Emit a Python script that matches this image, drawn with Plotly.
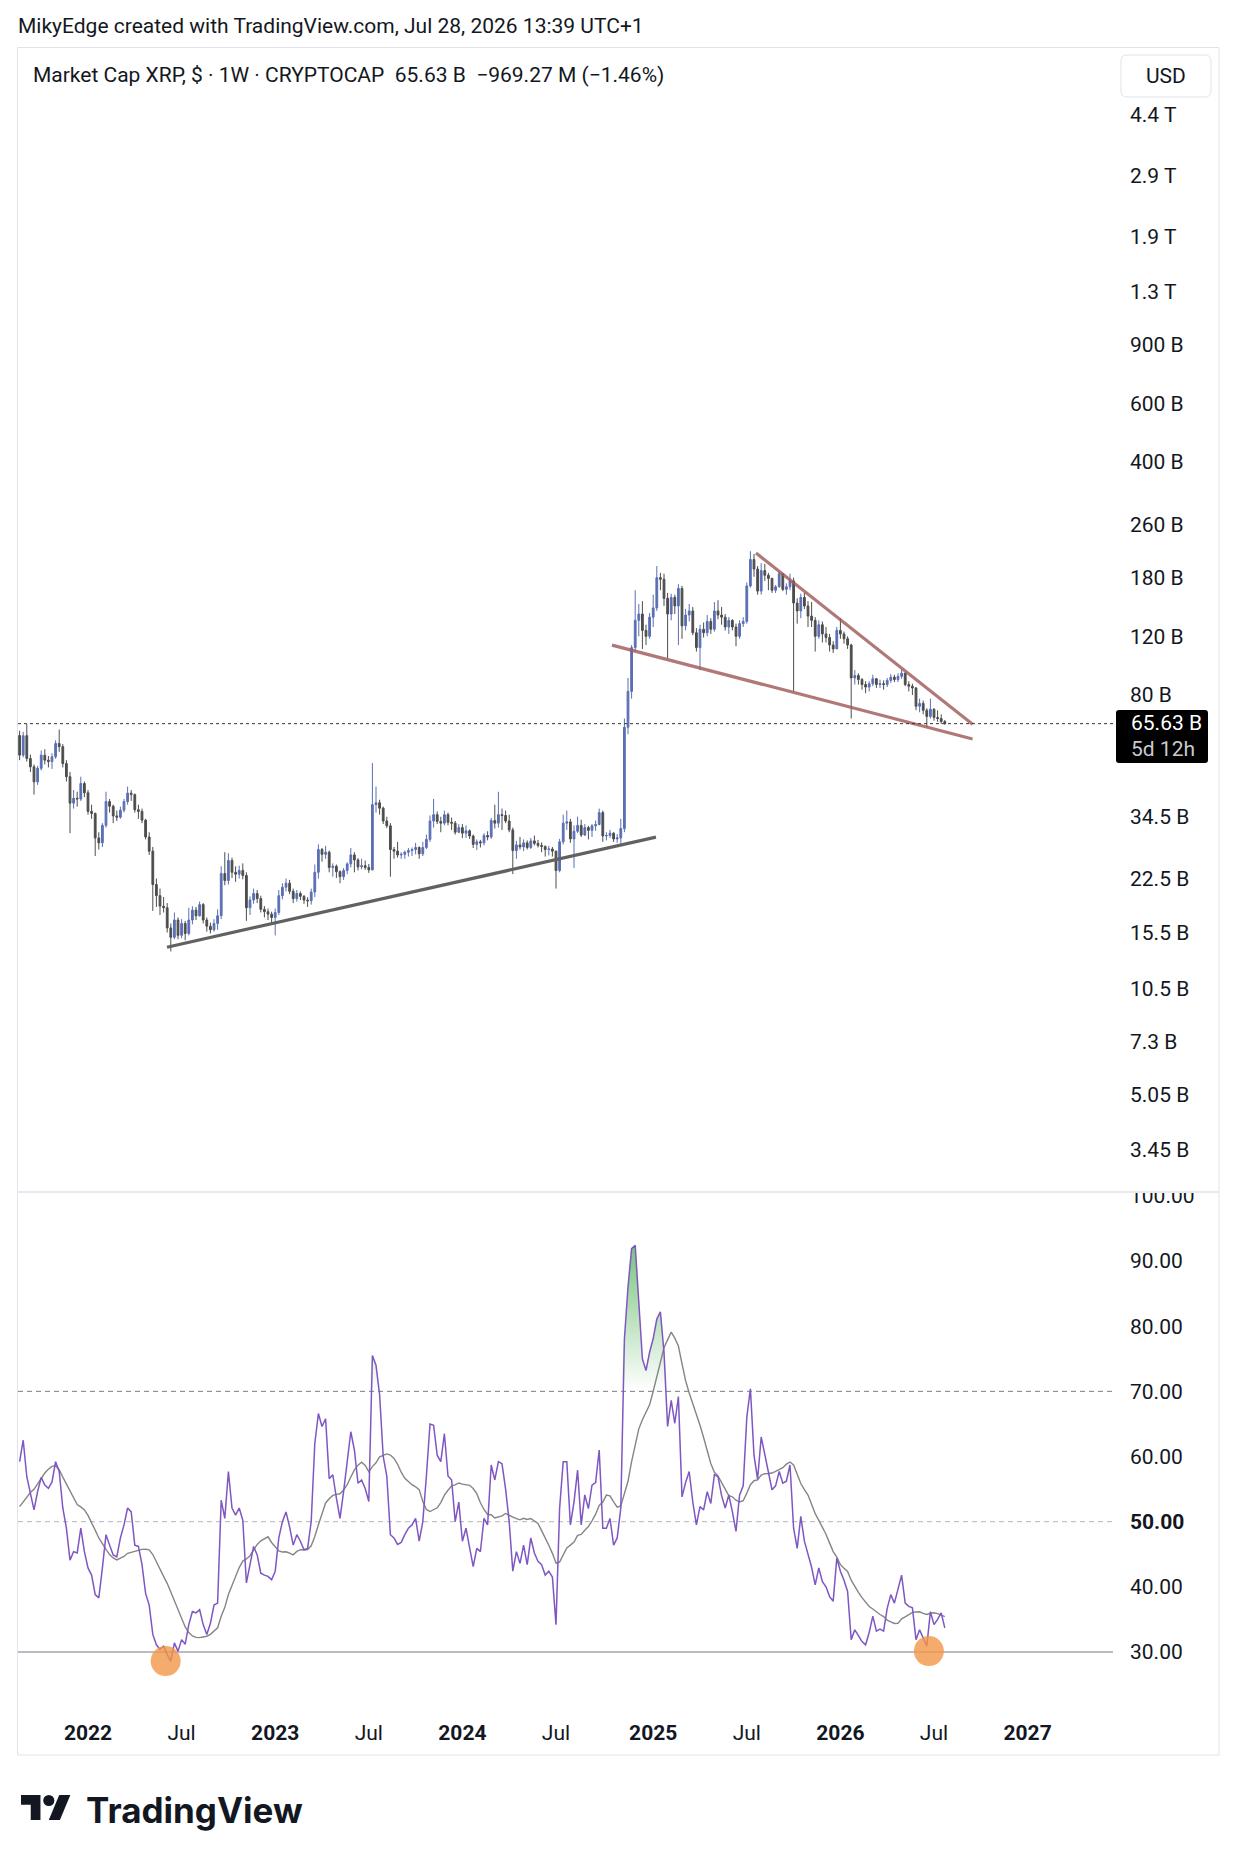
import math
import pandas as pd
import plotly.graph_objects as go

W, H = 1237, 1862

# ---------------- data (market cap in billions USD, weekly) ----------------
week_start = "2021-08-23"
first_open_b = 60.5

close_b = [
    52.8, 60.4, 51.6, 48.7, 43.9, 48.2, 52.8, 51.0, 50.5, 52.2,
    57.2, 56.0, 49.8, 45.5, 37.9, 39.2, 39.0, 43.4, 40.7, 35.8,
    35.3, 29.8, 28.8, 32.5, 38.3, 37.1, 34.7, 34.4, 36.1, 38.3,
    40.6, 40.2, 36.2, 35.8, 33.7, 30.0, 27.2, 21.6, 20.0, 18.6,
    18.4, 16.0, 15.0, 16.9, 15.2, 16.5, 15.4, 16.9, 18.1, 17.4,
    18.8, 16.9, 16.2, 15.8, 16.5, 17.4, 23.3, 22.2, 25.5, 23.5,
    23.2, 23.8, 23.0, 18.4, 19.4, 20.3, 19.6, 18.2, 17.9, 17.6,
    17.2, 17.8, 20.0, 21.2, 21.8, 20.6, 19.6, 20.3, 19.9, 19.4,
    19.3, 20.5, 23.5, 27.5, 26.6, 27.0, 24.3, 24.5, 23.6, 22.8,
    23.8, 24.9, 26.5, 25.6, 24.4, 24.6, 24.3, 23.9, 37.5, 38.0,
    36.6, 33.5, 32.4, 27.5, 27.2, 26.5, 26.6, 27.0, 27.3, 27.5,
    27.9, 26.7, 27.9, 29.5, 33.5, 35.0, 33.4, 33.0, 35.0, 33.2,
    33.0, 31.0, 32.0, 30.8, 31.3, 30.2, 28.5, 29.0, 28.8, 30.3,
    30.0, 33.6, 33.0, 35.0, 34.8, 33.5, 31.5, 27.3, 28.4, 28.0,
    28.8, 27.9, 29.2, 28.7, 28.3, 28.1, 27.5, 27.6, 27.2, 23.8,
    29.0, 33.0, 33.3, 29.6, 31.2, 32.5, 30.4, 32.0, 31.4, 32.4,
    32.7, 35.5, 30.2, 30.3, 30.8, 29.6, 29.8, 31.8, 64.0, 82.0,
    111.0, 134.0, 140.0, 125.0, 120.0, 137.0, 146.0, 180.0, 178.0, 156.0,
    140.0, 157.0, 148.0, 167.0, 129.0, 139.0, 143.0, 123.0, 111.0, 126.0,
    123.0, 133.0, 126.0, 143.0, 139.0, 137.0, 128.0, 134.0, 128.0, 120.0,
    131.0, 133.0, 170.0, 204.0, 191.0, 164.0, 189.0, 183.0, 179.0, 165.0,
    169.0, 185.0, 166.0, 169.0, 176.0, 151.0, 143.0, 157.0, 148.0, 138.0,
    134.0, 120.0, 130.0, 122.0, 119.0, 113.0, 110.0, 125.0, 122.0, 118.0,
    113.0, 90.0, 91.5, 89.0, 86.0, 84.5, 86.5, 89.5, 86.0, 86.5,
    86.0, 88.5, 90.5, 89.0, 91.0, 93.0, 86.0, 85.0, 84.0, 74.0,
    75.5, 72.0, 69.0, 72.5, 68.5, 68.0, 66.6, 65.63,
]

high_b = [
    62.5, 62.0, 65.4, 53.0, 49.5, 49.0, 54.5, 55.0, 52.5, 53.5,
    58.5, 63.0, 57.0, 51.0, 47.0, 41.5, 41.0, 45.5, 44.0, 41.5,
    37.5, 35.5, 31.0, 33.0, 41.0, 39.0, 37.5, 36.0, 37.0, 39.0,
    42.5, 41.5, 40.5, 37.5, 36.5, 34.0, 31.0, 28.0, 22.5, 21.0,
    19.8, 19.0, 16.5, 17.8, 17.2, 17.0, 16.8, 18.4, 18.6, 18.5,
    19.2, 19.0, 17.2, 16.6, 17.0, 18.2, 24.5, 27.0, 26.8, 26.0,
    24.5, 24.6, 25.0, 23.5, 19.9, 21.0, 20.8, 20.0, 18.6, 18.3,
    17.9, 18.3, 20.8, 21.8, 22.5, 22.3, 21.0, 20.8, 20.6, 20.1,
    19.8, 21.0, 24.8, 28.5, 27.8, 28.2, 27.3, 25.0, 24.8, 23.8,
    24.2, 25.2, 27.8, 27.0, 25.9, 25.8, 25.5, 24.9, 50.0, 42.5,
    38.8, 37.0, 34.5, 33.0, 28.0, 29.0, 27.0, 27.3, 27.8, 27.9,
    28.8, 28.1, 29.0, 30.5, 34.8, 39.0, 35.8, 34.5, 36.0, 35.5,
    34.3, 33.5, 32.8, 32.8, 32.5, 31.6, 30.5, 29.5, 29.4, 30.8,
    31.2, 34.2, 37.5, 41.0, 36.5, 36.0, 35.0, 32.0, 29.2, 30.0,
    29.5, 29.3, 29.8, 30.3, 29.4, 28.9, 28.3, 28.2, 28.0, 27.3,
    29.6, 35.0, 36.0, 34.0, 32.5, 34.5, 33.8, 32.8, 32.4, 32.8,
    33.6, 36.5, 36.0, 31.0, 31.5, 31.0, 30.6, 34.0, 68.0, 90.0,
    113.0, 165.0, 150.0, 153.0, 130.0, 141.0, 160.0, 195.0, 186.0, 185.0,
    162.0, 161.0, 160.0, 172.0, 170.0, 145.0, 150.0, 147.0, 127.0, 130.0,
    132.0, 139.0, 136.0, 152.0, 154.0, 147.0, 140.0, 137.0, 135.0, 131.0,
    134.0, 137.0, 174.0, 216.0, 212.0, 195.0, 199.0, 198.0, 186.0, 180.0,
    171.0, 188.0, 184.0, 173.0, 185.0, 180.0, 156.0, 161.0, 162.0, 153.0,
    152.0, 137.0, 134.0, 133.0, 128.0, 122.0, 116.0, 128.0, 136.0, 124.0,
    120.0, 114.0, 95.0, 93.0, 90.0, 88.0, 88.0, 92.0, 90.0, 89.0,
    88.5, 90.0, 92.5, 92.0, 93.0, 95.5, 93.5, 88.0, 86.5, 84.5,
    78.0, 77.0, 73.0, 78.0, 73.0, 72.0, 70.0, 67.3,
]

low_b = [
    51.0, 52.0, 50.5, 47.0, 40.2, 43.0, 47.5, 49.5, 48.5, 48.0,
    51.5, 54.0, 48.5, 44.0, 30.8, 36.5, 37.0, 38.5, 39.5, 35.0,
    34.0, 26.3, 27.5, 28.0, 32.0, 35.5, 33.0, 33.5, 34.0, 35.5,
    37.5, 38.5, 35.5, 34.0, 33.0, 29.5, 26.5, 18.0, 18.5, 17.5,
    17.8, 15.5, 13.6, 14.8, 14.8, 14.9, 14.7, 15.2, 16.4, 16.9,
    17.3, 16.5, 15.6, 15.4, 15.6, 15.8, 17.0, 21.5, 21.6, 22.6,
    22.0, 22.5, 22.4, 16.8, 17.5, 18.9, 19.0, 17.8, 17.2, 16.9,
    16.5, 15.2, 17.5, 19.5, 20.6, 20.2, 19.0, 19.2, 19.4, 18.9,
    18.5, 18.8, 19.8, 22.5, 25.3, 25.8, 23.5, 22.8, 22.6, 21.8,
    22.3, 23.2, 24.3, 23.5, 23.8, 24.0, 23.9, 23.4, 23.8, 35.5,
    35.0, 32.8, 31.9, 22.8, 25.8, 26.0, 25.8, 25.8, 26.2, 26.3,
    26.6, 25.8, 26.3, 27.6, 29.0, 32.0, 32.8, 31.0, 32.5, 32.5,
    31.5, 30.5, 30.8, 29.8, 29.8, 29.6, 27.8, 27.4, 27.9, 28.3,
    29.3, 29.6, 31.8, 32.0, 31.5, 33.0, 31.0, 23.2, 25.8, 27.5,
    27.2, 27.5, 27.6, 28.3, 27.9, 27.0, 26.2, 26.4, 26.2, 21.0,
    23.5, 28.5, 31.5, 28.8, 24.2, 30.8, 30.0, 30.2, 29.5, 30.0,
    31.3, 32.5, 29.0, 29.3, 29.8, 29.0, 28.8, 28.6, 31.0, 61.0,
    78.0, 108.0, 120.0, 110.0, 113.0, 118.0, 128.0, 143.0, 165.0, 148.0,
    103.0, 134.0, 140.0, 113.0, 118.0, 125.0, 133.0, 121.0, 108.0, 95.0,
    119.0, 120.0, 122.0, 124.0, 135.0, 130.0, 125.0, 122.0, 125.0, 112.0,
    118.0, 128.0, 131.0, 168.0, 181.0, 160.0, 160.0, 176.0, 165.0, 162.0,
    162.0, 168.0, 164.0, 160.0, 165.0, 82.0, 131.0, 136.0, 145.0, 128.0,
    128.0, 108.0, 118.0, 115.0, 115.0, 108.0, 107.0, 110.0, 118.0, 114.0,
    110.0, 68.0, 86.0, 86.0, 83.0, 81.0, 82.0, 85.0, 84.0, 84.0,
    83.0, 84.5, 87.0, 87.5, 87.5, 89.5, 85.0, 82.0, 80.0, 72.0,
    71.0, 70.0, 64.0, 68.0, 67.0, 66.5, 65.5, 65.2,
]

# RSI(14) weekly; rsi_pre = the 13 weeks before the first visible bar (feed the MA)
rsi_pre = [52, 47, 44, 45, 43, 45, 44, 47, 50, 58, 66, 68, 64]
rsi = [
    59.2, 62.5, 56.9, 54.1, 51.8, 54.6, 56.8, 55.6, 55.1, 56.1,
    59.2, 57.7, 52.1, 49.0, 44.1, 45.4, 45.2, 49.0, 45.4, 42.9,
    41.8, 38.8, 38.3, 42.9, 48.0, 46.4, 44.9, 44.6, 47.5, 49.5,
    52.1, 51.5, 46.4, 46.2, 43.4, 39.0, 37.2, 32.7, 31.1, 30.4,
    30.9, 29.6, 28.6, 31.4, 30.1, 31.9, 31.2, 34.2, 36.2, 36.0,
    36.5, 34.2, 32.7, 34.4, 37.2, 37.5, 53.3, 50.5, 57.7, 52.1,
    51.0, 52.1, 50.2, 40.6, 43.4, 46.2, 44.9, 42.1, 41.8, 41.6,
    41.1, 42.4, 47.5, 50.0, 51.5, 49.2, 46.4, 48.0, 47.0, 45.7,
    45.9, 50.0, 62.0, 66.6, 64.6, 65.8, 56.6, 57.2, 53.6, 50.5,
    54.6, 59.2, 63.8, 61.0, 55.9, 56.4, 55.1, 53.1, 75.5, 74.0,
    69.5, 60.0, 57.0, 48.0, 47.5, 46.5, 46.8, 48.0, 49.0, 49.5,
    50.5, 47.0, 50.0, 57.0, 65.0, 64.8, 60.2, 59.2, 63.5, 57.0,
    56.4, 50.0, 53.0, 47.0, 49.0, 46.0, 43.1, 45.9, 45.4, 50.5,
    49.5, 58.7, 56.4, 59.2, 58.9, 55.0, 50.0, 42.4, 45.4, 43.6,
    46.4, 43.4, 47.5, 45.2, 43.9, 43.4, 41.8, 42.4, 41.5, 34.2,
    52.0, 59.2, 59.2, 49.5, 53.0, 57.9, 49.5, 54.1, 52.0, 55.6,
    56.0, 61.0, 49.0, 49.0, 50.5, 46.4, 47.5, 52.1, 78.0, 86.0,
    91.9, 92.4, 84.0, 75.0, 73.2, 76.0, 78.1, 81.1, 82.2, 76.0,
    64.6, 68.6, 65.1, 69.2, 53.8, 56.0, 57.7, 53.0, 49.5, 52.3,
    51.8, 54.6, 52.8, 57.2, 56.9, 54.0, 52.1, 54.1, 51.5, 48.5,
    54.1, 55.5, 66.0, 70.4, 60.2, 56.5, 63.0, 60.2, 57.5, 54.9,
    55.5, 57.7, 55.9, 56.2, 58.7, 49.0, 45.9, 50.8, 47.0, 44.9,
    43.0, 40.3, 42.9, 40.8, 40.0, 38.5, 37.8, 44.4, 42.4, 41.0,
    39.3, 31.9, 33.4, 32.5, 31.6, 31.1, 33.0, 35.5, 33.2, 33.5,
    33.2, 36.7, 38.8, 37.5, 39.5, 41.8, 37.5, 37.0, 36.8, 31.9,
    33.4, 32.0, 30.9, 36.2, 34.2, 35.0, 36.0, 33.7,
]
rsi_ma_length = 14

# hand-drawn trend lines (date, market cap in B)
support_dates = ["2022-06-05 14:00", "2025-01-11 09:00"]
support_b = [14.0, 29.97]
wedge_upper_dates = ["2025-07-24 21:00", "2026-09-19 00:00"]
wedge_upper_b = [213.3, 65.4]
wedge_lower_dates = ["2024-10-17 21:00", "2026-09-19 00:00"]
wedge_lower_b = [112.9, 59.0]

# orange highlight circles on the RSI pane
circle_dates = ["2022-06-03", "2026-06-26"]
circle_rsi = [28.6, 30.15]

price_ticks_b = [3.45, 5.05, 7.3, 10.5, 15.5, 22.5, 34.5, 52.5, 80, 120, 180,
                 260, 400, 600, 900, 1300, 1900, 2900, 4400]
price_tick_text = ["3.45 B", "5.05 B", "7.3 B", "10.5 B", "15.5 B", "22.5 B",
                   "34.5 B", "52.5 B", "80 B", "120 B", "180 B", "260 B",
                   "400 B", "600 B", "900 B", "1.3 T", "1.9 T", "2.9 T", "4.4 T"]
rsi_ticks = [30, 40, 50, 60, 70, 80, 90, 100]
rsi_tick_text = ["30.00", "40.00", "<b>50.00</b>", "60.00", "70.00", "80.00",
                 "90.00", "100.00"]
time_ticks = ["2022-01-03", "2022-07-04", "2023-01-02", "2023-07-03",
              "2024-01-01", "2024-07-01", "2025-01-06", "2025-07-07",
              "2026-01-05", "2026-07-06", "2027-01-04"]
time_tick_text = ["<b>2022</b>", "Jul", "<b>2023</b>", "Jul", "<b>2024</b>",
                  "Jul", "<b>2025</b>", "Jul", "<b>2026</b>", "Jul", "<b>2027</b>"]

# ---------------- derived ----------------
dates = pd.date_range(week_start, periods=len(close_b), freq="7D")
opens = [first_open_b] + close_b[:-1]
highs = [max(h, o, c) for h, o, c in zip(high_b, opens, close_b)]
lows = [min(l, o, c) for l, o, c in zip(low_b, opens, close_b)]
rsi_ma = pd.Series(rsi_pre + rsi).rolling(rsi_ma_length).mean().tolist()[len(rsi_pre):]

# ---------------- geometry (pixel calibration) ----------------
def px(x):
    return x / W

def py(y):
    return 1 - y / H

PLOT_L, PLOT_R = 18, 1113
PRICE_TOP, PANE_SEP, RSI_BOT = 48, 1192, 1708
BAR_PX = 3.6
X0_PIX = 19.6  # pixel of first bar
t0 = pd.Timestamp(week_start)
x_left = t0 + pd.Timedelta(days=7 * (PLOT_L - X0_PIX) / BAR_PX)
x_right = t0 + pd.Timedelta(days=7 * (PLOT_R - X0_PIX) / BAR_PX)

ppd = (1150 - 115) / math.log10(4400 / 3.45)  # px per decade
ytop = math.log10(4400) + (115 - PRICE_TOP) / ppd
ybot = math.log10(4400) - (PANE_SEP - 115) / ppd

rpp = (1652 - 1261) / 60.0  # px per RSI unit
rsi_top = 30 + (1652 - PANE_SEP) / rpp
rsi_bot = 30 - (RSI_BOT - 1652) / rpp

FONT = "Roboto, Arial, sans-serif"
FS = 21
TXT = "#131722"
UP = "#5a6fb4"
DOWN = "#4d4d4d"

fig = go.Figure()

fig.add_trace(go.Candlestick(
    x=dates, open=opens, high=highs, low=lows, close=close_b,
    increasing=dict(line=dict(color=UP, width=1), fillcolor=UP),
    decreasing=dict(line=dict(color=DOWN, width=1), fillcolor=DOWN),
    xaxis="x", yaxis="y", hoverinfo="skip", showlegend=False,
))

for d, v, col in [
    (support_dates, support_b, "#616161"),
    (wedge_upper_dates, wedge_upper_b, "rgba(160,90,90,0.82)"),
    (wedge_lower_dates, wedge_lower_b, "rgba(160,90,90,0.82)"),
]:
    fig.add_trace(go.Scatter(x=d, y=v, mode="lines", line=dict(color=col, width=3.2),
                             xaxis="x", yaxis="y", hoverinfo="skip", showlegend=False))

# RSI pane
fill_top = [max(v, 70) for v in rsi]
fig.add_trace(go.Scatter(x=dates, y=[70] * len(rsi), mode="lines",
                         line=dict(width=0, color="rgba(0,0,0,0)"),
                         xaxis="x2", yaxis="y2", hoverinfo="skip", showlegend=False))
fig.add_trace(go.Scatter(x=dates, y=fill_top, mode="lines",
                         line=dict(width=0, color="rgba(0,0,0,0)"),
                         fill="tonexty",
                         fillgradient=dict(type="vertical",
                                           colorscale=[[0, "rgba(76,175,80,0)"],
                                                       [1, "rgba(76,175,80,1)"]],
                                           start=70, stop=100),
                         xaxis="x2", yaxis="y2", hoverinfo="skip", showlegend=False))
fig.add_trace(go.Scatter(x=dates, y=rsi_ma, mode="lines",
                         line=dict(color="#858585", width=1.4),
                         xaxis="x2", yaxis="y2", hoverinfo="skip", showlegend=False))
fig.add_trace(go.Scatter(x=dates, y=rsi, mode="lines",
                         line=dict(color="#7e57c2", width=1.5),
                         xaxis="x2", yaxis="y2", hoverinfo="skip", showlegend=False))
fig.add_trace(go.Scatter(x=circle_dates, y=circle_rsi, mode="markers",
                         marker=dict(size=30, color="rgba(242,150,70,0.8)", line=dict(width=0)),
                         xaxis="x2", yaxis="y2", hoverinfo="skip", showlegend=False,
                         cliponaxis=False))

shapes = []
# chart frame
shapes.append(dict(type="rect", xref="paper", yref="paper",
                   x0=px(17.5), x1=px(1219), y0=py(1755), y1=py(47.5),
                   line=dict(color="#e0e3eb", width=1), layer="below"))
# RSI levels
shapes.append(dict(type="line", xref="x2 domain", yref="y2", x0=0, x1=1, y0=70, y1=70,
                   line=dict(color="#787b86", width=1, dash="5px,4px"), layer="below"))
shapes.append(dict(type="line", xref="x2 domain", yref="y2", x0=0, x1=1, y0=50, y1=50,
                   line=dict(color="rgba(120,123,134,0.55)", width=1, dash="5px,4px"), layer="below"))
shapes.append(dict(type="line", xref="x2 domain", yref="y2", x0=0, x1=1, y0=30, y1=30,
                   line=dict(color="#787b86", width=1), layer="below"))
# last price dotted line
shapes.append(dict(type="line", xref="paper", yref="y", x0=px(PLOT_L), x1=px(1116),
                   y0=close_b[-1], y1=close_b[-1],
                   line=dict(color="#333333", width=1, dash="dot"), layer="above"))
# white mask that clips the "100.00" label at the pane border
shapes.append(dict(type="rect", xref="paper", yref="paper",
                   x0=px(1114), x1=px(1218), y0=py(1193), y1=py(1168),
                   fillcolor="white", line=dict(width=0), layer="above"))
# pane separator
shapes.append(dict(type="line", xref="paper", yref="paper",
                   x0=px(17.5), x1=px(1219), y0=py(PANE_SEP), y1=py(PANE_SEP),
                   line=dict(color="#e0e3eb", width=1.5), layer="above"))


def rrect(x0, y0, x1, y1, r):
    pts = [("M", [(x0 + r, y0)]), ("L", [(x1 - r, y0)]), ("Q", [(x1, y0), (x1, y0 + r)]),
           ("L", [(x1, y1 - r)]), ("Q", [(x1, y1), (x1 - r, y1)]), ("L", [(x0 + r, y1)]),
           ("Q", [(x0, y1), (x0, y1 - r)]), ("L", [(x0, y0 + r)]),
           ("Q", [(x0, y0), (x0 + r, y0)])]
    s = ""
    for cmd, ps in pts:
        s += cmd + " " + " ".join(f"{px(a):.6f},{py(b):.6f}" for a, b in ps) + " "
    return s + "Z"


# USD button
shapes.append(dict(type="path", xref="paper", yref="paper", path=rrect(1121, 55, 1211, 97, 6),
                   fillcolor="white", line=dict(color="#e0e3eb", width=1), layer="above"))
# last price label box
shapes.append(dict(type="path", xref="paper", yref="paper", path=rrect(1116, 710, 1208, 763, 3),
                   fillcolor="#000000", line=dict(width=0), layer="above"))

# TradingView logo mark
s = 1.39
ox, oy = 21, 1789.4
def lp(u, v):
    return px(ox + s * u), py(oy + s * v)

tpath = [(0, 4), (14, 4), (14, 22), (7, 22), (7, 11), (0, 11)]
spath = [(28, 22), (20, 22), (27.5, 4), (35.5, 4)]
for poly in (tpath, spath):
    p = "M " + " L ".join("%.6f,%.6f" % lp(u, v) for u, v in poly) + " Z"
    shapes.append(dict(type="path", xref="paper", yref="paper", path=p,
                       fillcolor="#131722", line=dict(width=0), layer="above"))
cx0, cy0 = lp(16, 4)
cx1, cy1 = lp(24, 12)
shapes.append(dict(type="circle", xref="paper", yref="paper", x0=cx0, x1=cx1, y0=cy1, y1=cy0,
                   fillcolor="#131722", line=dict(width=0), layer="above"))

annotations = [
    dict(text="MikyEdge created with TradingView.com, Jul 28, 2026 13:39 UTC+1",
         x=px(16), y=py(26), xanchor="left", yanchor="middle",
         font=dict(family=FONT, size=FS, color=TXT)),
    dict(text="Market Cap XRP, $ · 1W · CRYPTOCAP\u00a0\u00a0%.2f B\u00a0\u00a0−969.27 M (−1.46%%)" % close_b[-1],
         x=px(31), y=py(75), xanchor="left", yanchor="middle",
         font=dict(family=FONT, size=FS, color=TXT)),
    dict(text="USD", x=px(1166), y=py(76), xanchor="center", yanchor="middle",
         font=dict(family=FONT, size=FS, color=TXT)),
    dict(text="%.2f B" % close_b[-1], x=px(1129), y=py(723), xanchor="left", yanchor="middle",
         font=dict(family=FONT, size=FS, color="white")),
    dict(text="5d 12h", x=px(1129), y=py(749), xanchor="left", yanchor="middle",
         font=dict(family=FONT, size=FS, color="#c8cad0")),
    dict(text="<b>TradingView</b>", x=px(84), y=py(1810), xanchor="left", yanchor="middle",
         font=dict(family="Inter, Roboto, sans-serif", size=35, color="#131722")),
]
for a in annotations:
    a.update(xref="paper", yref="paper", showarrow=False)

axis_common = dict(showgrid=False, zeroline=False, showline=False, ticks="", automargin=False)

fig.update_layout(
    width=W, height=H, margin=dict(l=0, r=0, t=0, b=0, pad=0, autoexpand=False),
    paper_bgcolor="white", plot_bgcolor="white",
    showlegend=False, hovermode=False, dragmode=False,
    xaxis=dict(domain=[px(PLOT_L), px(PLOT_R)], range=[x_left, x_right], type="date",
               anchor="y", showticklabels=False, rangeslider=dict(visible=False), **axis_common),
    yaxis=dict(domain=[py(PANE_SEP), py(PRICE_TOP)], type="log", range=[ybot, ytop],
               anchor="x", side="right", tickvals=price_ticks_b, ticktext=price_tick_text,
               tickfont=dict(family=FONT, size=FS, color=TXT), ticklabelstandoff=16,
               **axis_common),
    xaxis2=dict(domain=[px(PLOT_L), px(PLOT_R)], range=[x_left, x_right], type="date",
                anchor="y2", matches="x", tickvals=time_ticks, ticktext=time_tick_text,
                tickfont=dict(family=FONT, size=FS, color=TXT), ticklabelstandoff=10,
                rangeslider=dict(visible=False), **axis_common),
    yaxis2=dict(domain=[py(RSI_BOT), py(PANE_SEP)], range=[rsi_bot, rsi_top],
                anchor="x2", side="right", tickvals=rsi_ticks, ticktext=rsi_tick_text,
                tickfont=dict(family=FONT, size=FS, color=TXT), ticklabelstandoff=16,
                **axis_common),
    shapes=shapes, annotations=annotations,
)

fig.write_html("out.html")
